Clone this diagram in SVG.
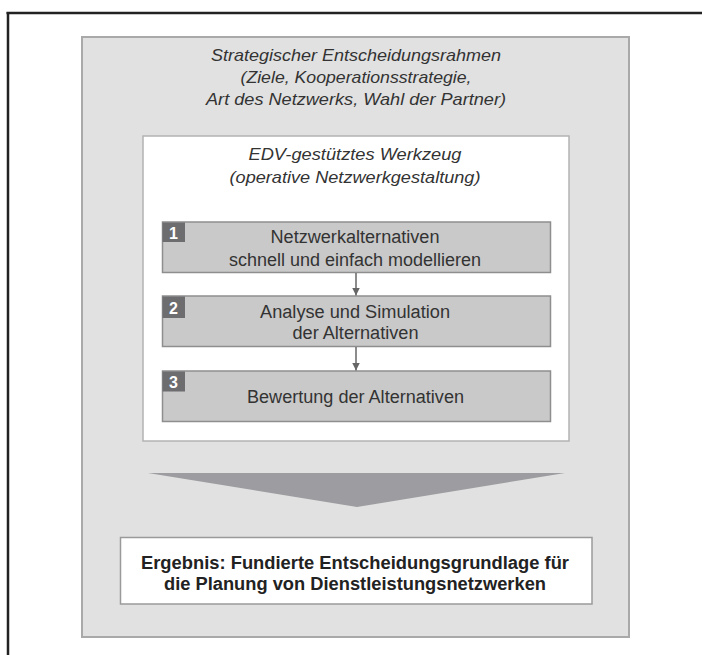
<svg xmlns="http://www.w3.org/2000/svg" width="702" height="655" viewBox="0 0 702 655">
<defs>
<style>
.it{font-family:"Liberation Sans",Arial,sans-serif;font-style:italic;font-size:17px;fill:#333;text-anchor:middle}
.st{font-family:"Liberation Sans",Arial,sans-serif;font-size:18px;fill:#333;text-anchor:middle}
.rs{font-family:"Liberation Sans",Arial,sans-serif;font-weight:bold;font-size:18px;fill:#222;text-anchor:middle}
.num{font-family:"Liberation Sans",Arial,sans-serif;font-weight:bold;font-size:16px;fill:#fff;text-anchor:middle}
.step{fill:#c9c9c9;stroke:#8e8e8e;stroke-width:1.5}
.sq{fill:#6d6d70}
.conn{stroke:#666;stroke-width:1.5;fill:none}
</style>
<marker id="ah" viewBox="0 0 10 10" refX="10" refY="5" markerWidth="8" markerHeight="8" markerUnits="userSpaceOnUse" orient="auto">
<path d="M0,0 L10,5 L0,10 z" fill="#666"/>
</marker>
</defs>
<rect x="0" y="0" width="702" height="655" fill="#fff"/>
<g id="frame">
<line x1="6.5" y1="13" x2="702" y2="13" stroke="#222" stroke-width="2.5"/>
<line x1="8" y1="12" x2="8" y2="655" stroke="#222" stroke-width="2.5"/>
</g>
<g id="outer">
<rect x="82" y="37" width="547" height="600" fill="#e1e1e1" stroke="#a9a9a9" stroke-width="2"/>
<text class="it" x="356" y="61" textLength="290" lengthAdjust="spacingAndGlyphs">Strategischer Entscheidungsrahmen</text>
<text class="it" x="356" y="83" textLength="231" lengthAdjust="spacingAndGlyphs">(Ziele, Kooperationsstrategie,</text>
<text class="it" x="356" y="105" textLength="300" lengthAdjust="spacingAndGlyphs">Art des Netzwerks, Wahl der Partner)</text>
</g>
<g id="tool">
<rect x="143" y="136" width="426" height="305" fill="#fff" stroke="#b3b3b3" stroke-width="1.5"/>
<text class="it" x="355" y="160" textLength="213" lengthAdjust="spacingAndGlyphs">EDV-gestütztes Werkzeug</text>
<text class="it" x="355" y="183" textLength="251" lengthAdjust="spacingAndGlyphs">(operative Netzwerkgestaltung)</text>
</g>
<g id="step1">
<rect class="step" x="162.5" y="222" width="388" height="50.5"/>
<rect class="sq" x="162.5" y="222.5" width="22.5" height="19.5"/>
<text class="num" x="173.5" y="239">1</text>
<text class="st" x="355" y="243" textLength="169" lengthAdjust="spacingAndGlyphs">Netzwerkalternativen</text>
<text class="st" x="355" y="266" textLength="252" lengthAdjust="spacingAndGlyphs">schnell und einfach modellieren</text>
</g>
<g id="step2">
<rect class="step" x="162.5" y="296" width="388" height="50.5"/>
<rect class="sq" x="162.5" y="296.5" width="22.5" height="21.5"/>
<text class="num" x="173.5" y="314">2</text>
<text class="st" x="355" y="317.5" textLength="190" lengthAdjust="spacingAndGlyphs">Analyse und Simulation</text>
<text class="st" x="355.5" y="339" textLength="126" lengthAdjust="spacingAndGlyphs">der Alternativen</text>
</g>
<g id="step3">
<rect class="step" x="162.5" y="371" width="388" height="50.5"/>
<rect class="sq" x="162.5" y="371.5" width="22.5" height="20"/>
<text class="num" x="173.5" y="388">3</text>
<text class="st" x="355.5" y="403" textLength="217" lengthAdjust="spacingAndGlyphs">Bewertung der Alternativen</text>
</g>
<g id="connectors">
<line class="conn" x1="356" y1="273" x2="356" y2="295.5" marker-end="url(#ah)"/>
<line class="conn" x1="356" y1="347" x2="356" y2="370.5" marker-end="url(#ah)"/>
</g>
<g id="chevron">
<polygon points="148,473 565,473 357,507" fill="#9d9da1"/>
</g>
<g id="result">
<rect x="120.5" y="537.5" width="471.5" height="66.5" fill="#fff" stroke="#9a9a9a" stroke-width="1.5"/>
<text class="rs" x="355" y="569" textLength="428" lengthAdjust="spacingAndGlyphs">Ergebnis: Fundierte Entscheidungsgrundlage für</text>
<text class="rs" x="355" y="590" textLength="382" lengthAdjust="spacingAndGlyphs">die Planung von Dienstleistungsnetzwerken</text>
</g>
</svg>
